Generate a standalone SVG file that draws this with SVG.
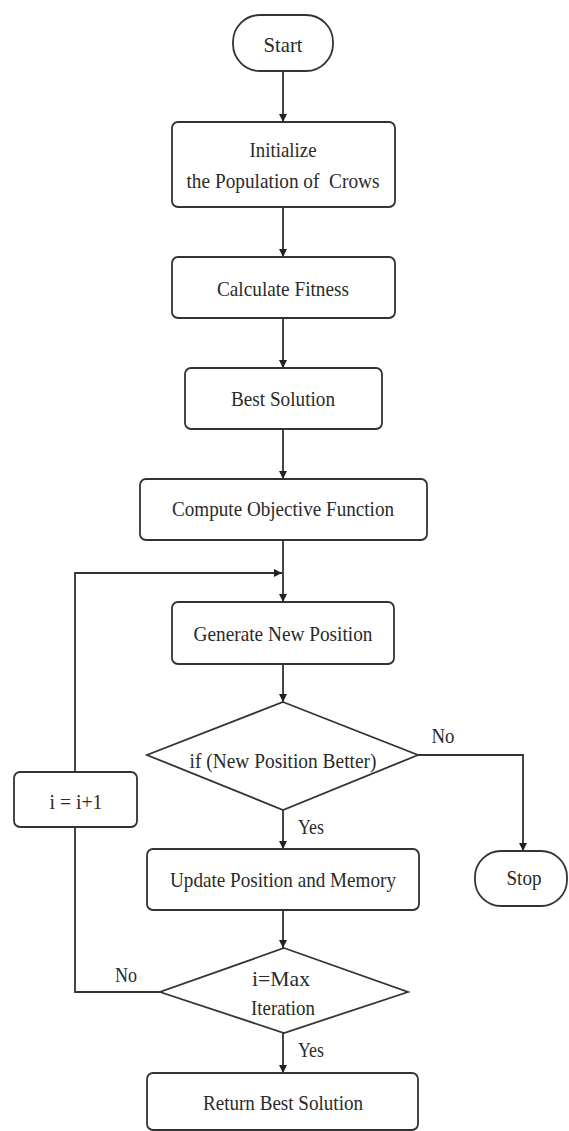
<svg xmlns="http://www.w3.org/2000/svg" width="569" height="1131" viewBox="0 0 569 1131">
<style>
.n{fill:#fff;stroke:#333;stroke-width:1.8}
.t{font-family:"Liberation Serif","Times New Roman",serif;font-size:22px;fill:#2a2a2a;text-anchor:middle}
.c{fill:none;stroke:#333;stroke-width:1.8}
</style>
<defs>
<marker id="ah" viewBox="0 0 10 10" refX="10" refY="5" markerWidth="8" markerHeight="8" markerUnits="userSpaceOnUse" orient="auto">
<path d="M0,0 L10,5 L0,10 z" fill="#222"/>
</marker>
</defs>
<rect width="569" height="1131" fill="#fff"/>
<g id="connectors">
<line class="c" x1="283" y1="71" x2="283" y2="122" marker-end="url(#ah)"/>
<line class="c" x1="283" y1="207" x2="283" y2="257" marker-end="url(#ah)"/>
<line class="c" x1="283" y1="318" x2="283" y2="368" marker-end="url(#ah)"/>
<line class="c" x1="283" y1="429" x2="283" y2="479" marker-end="url(#ah)"/>
<line class="c" x1="283" y1="540" x2="283" y2="602" marker-end="url(#ah)"/>
<line class="c" x1="283" y1="664" x2="283" y2="702" marker-end="url(#ah)"/>
<line class="c" x1="283" y1="810" x2="283" y2="849" marker-end="url(#ah)"/>
<line class="c" x1="283" y1="910" x2="283" y2="948" marker-end="url(#ah)"/>
<line class="c" x1="283" y1="1033" x2="283" y2="1073" marker-end="url(#ah)"/>
<polyline class="c" points="418,755 523,755 523,851" marker-end="url(#ah)"/>
<polyline class="c" points="160,992 75,992 75,827"/>
<polyline class="c" points="75,772 75,573 282,573" marker-end="url(#ah)"/>
</g>
<g id="start">
<rect class="n" x="233" y="15" width="100" height="56" rx="27"/>
<text class="t" x="283" y="52" textLength="39" lengthAdjust="spacingAndGlyphs">Start</text>
</g>
<g id="init">
<rect class="n" x="172" y="122" width="223" height="85" rx="6"/>
<text class="t" x="283" y="157" textLength="67" lengthAdjust="spacingAndGlyphs">Initialize</text>
<text class="t" x="283" y="188" textLength="193" lengthAdjust="spacingAndGlyphs">the Population of&#160; Crows</text>
</g>
<g id="fitness">
<rect class="n" x="172" y="257" width="223" height="61" rx="6"/>
<text class="t" x="283" y="296" textLength="132" lengthAdjust="spacingAndGlyphs">Calculate Fitness</text>
</g>
<g id="best">
<rect class="n" x="185" y="368" width="197" height="61" rx="6"/>
<text class="t" x="283" y="406" textLength="104" lengthAdjust="spacingAndGlyphs">Best Solution</text>
</g>
<g id="objective">
<rect class="n" x="140" y="479" width="287" height="61" rx="6"/>
<text class="t" x="283" y="516" textLength="222" lengthAdjust="spacingAndGlyphs">Compute Objective Function</text>
</g>
<g id="generate">
<rect class="n" x="172" y="602" width="222" height="62" rx="6"/>
<text class="t" x="283" y="641" textLength="179" lengthAdjust="spacingAndGlyphs">Generate New Position</text>
</g>
<g id="decision1">
<polygon class="n" points="283,702 418,755 283,810 147,755"/>
<text class="t" x="283" y="768" textLength="187" lengthAdjust="spacingAndGlyphs">if (New Position Better)</text>
</g>
<g id="increment">
<rect class="n" x="14" y="772" width="123" height="55" rx="6"/>
<text class="t" x="76" y="809" textLength="53" lengthAdjust="spacingAndGlyphs">i = i+1</text>
</g>
<g id="stop">
<rect class="n" x="475" y="851" width="92" height="55" rx="26"/>
<text class="t" x="524" y="885" textLength="35" lengthAdjust="spacingAndGlyphs">Stop</text>
</g>
<g id="update">
<rect class="n" x="147" y="849" width="272" height="61" rx="6"/>
<text class="t" x="283" y="887" textLength="226" lengthAdjust="spacingAndGlyphs">Update Position and Memory</text>
</g>
<g id="decision2">
<polygon class="n" points="284,948 408,992 284,1033 160,992"/>
<text class="t" x="281" y="986" textLength="58" lengthAdjust="spacingAndGlyphs">i=Max</text>
<text class="t" x="283" y="1015" textLength="64" lengthAdjust="spacingAndGlyphs">Iteration</text>
</g>
<g id="return">
<rect class="n" x="147" y="1073" width="271" height="57" rx="6"/>
<text class="t" x="283" y="1110" textLength="160" lengthAdjust="spacingAndGlyphs">Return Best Solution</text>
</g>
<g id="labels">
<text class="t" x="443" y="743" textLength="23" lengthAdjust="spacingAndGlyphs">No</text>
<text class="t" x="311" y="834" textLength="26" lengthAdjust="spacingAndGlyphs">Yes</text>
<text class="t" x="126" y="982" textLength="22" lengthAdjust="spacingAndGlyphs">No</text>
<text class="t" x="311" y="1057" textLength="26" lengthAdjust="spacingAndGlyphs">Yes</text>
</g>
</svg>
